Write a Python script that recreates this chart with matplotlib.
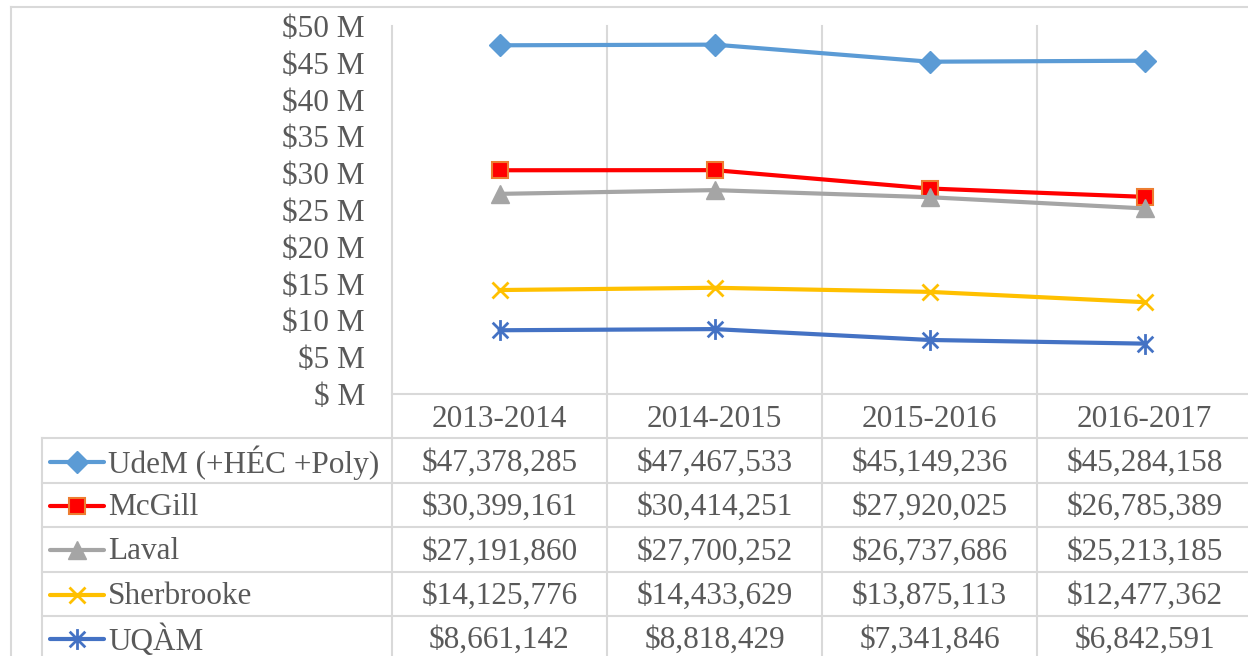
import matplotlib
matplotlib.use("Agg")
import matplotlib.pyplot as plt
from matplotlib.lines import Line2D
from matplotlib.path import Path
from matplotlib.ticker import FixedLocator, FuncFormatter

# ---- data ----
years = ["2013-2014", "2014-2015", "2015-2016", "2016-2017"]
series_names = ["UdeM (+HÉC +Poly)", "McGill", "Laval", "Sherbrooke", "UQÀM"]
udem = [47378285, 47467533, 45149236, 45284158]
mcgill = [30399161, 30414251, 27920025, 26785389]
laval = [27191860, 27700252, 26737686, 25213185]
sherbrooke = [14125776, 14433629, 13875113, 12477362]
uqam = [8661142, 8818429, 7341846, 6842591]
y_ticks = [0, 5, 10, 15, 20, 25, 30, 35, 40, 45, 50]

series_values = [udem, mcgill, laval, sherbrooke, uqam]

star_path = Path(
    [(0, -1), (0, 1), (-0.75, -0.75), (0.75, 0.75), (-0.75, 0.75), (0.75, -0.75)],
    [Path.MOVETO, Path.LINETO, Path.MOVETO, Path.LINETO, Path.MOVETO, Path.LINETO],
)

styles = [
    dict(color="#5B9BD5", marker="D", ms=11, mfc="#5B9BD5", mec="#5B9BD5"),
    dict(color="#FF0000", marker="s", ms=11.5, mfc="#FF0000", mec="#ED7D31", mew=1.5),
    dict(color="#A5A5A5", marker="^", ms=13, mfc="#A5A5A5", mec="#A5A5A5"),
    dict(color="#FFC000", marker="x", ms=12, mec="#FFC000", mew=2),
    dict(color="#4472C4", marker=star_path, ms=15, mec="#4472C4", mew=2),
]

W, H = 1248, 656
DPI = 100
plt.rcParams["font.family"] = ["Liberation Serif", "DejaVu Serif"]
TXT = "#595959"
GRID = "#D9D9D9"
FS = 22.5

fig = plt.figure(figsize=(W / DPI, H / DPI), dpi=DPI)


def fx(x):
    return x / W


def fy(y):
    return 1 - y / H


# plot area geometry (pixels)
left_px, right_px, top_px, bot_px = 392, 1252, 26, 394
ax = fig.add_axes([fx(left_px), fy(bot_px), fx(right_px - left_px), (bot_px - top_px) / H])
ax.patch.set_alpha(0)
ax.set_xlim(-0.5, len(years) - 0.5)
ax.set_ylim(0, 50)
for s in ax.spines.values():
    s.set_visible(False)
ax.set_xticks([])
ax.yaxis.set_major_locator(FixedLocator(y_ticks))
ax.yaxis.set_major_formatter(FuncFormatter(lambda v, p: f"${int(v)} M" if v else "$ M"))
ax.tick_params(axis="y", length=0, pad=19.5, labelsize=FS, labelcolor=TXT)
for lab in ax.get_yticklabels():
    lab.set_verticalalignment("center_baseline")

x = list(range(len(years)))
for vals, st in zip(series_values, styles):
    ax.plot(x, [v / 1e6 for v in vals], lw=3, solid_capstyle="round", zorder=3, **st)

# ---- chart border ----
fig.add_artist(Line2D([fx(11), fx(W + 5)], [fy(7), fy(7)], transform=fig.transFigure, color=GRID, lw=1.5))
fig.add_artist(Line2D([fx(11), fx(11)], [fy(7), fy(H + 5)], transform=fig.transFigure, color=GRID, lw=1.5))

# ---- grid / table lines ----
col_w = (right_px - left_px) / len(years)
col_edges = [left_px + i * col_w for i in range(len(years) + 1)]
for i, cx in enumerate(col_edges):
    fig.add_artist(Line2D([fx(cx), fx(cx)], [fy(top_px), fy(H + 5)], transform=fig.transFigure,
                          color=GRID, lw=1.5, zorder=0))
header_top = bot_px
row_h = 44.4
header_bot = header_top + row_h
fig.add_artist(Line2D([fx(left_px), fx(W + 5)], [fy(header_top), fy(header_top)],
                      transform=fig.transFigure, color=GRID, lw=1.5))
table_left = 42
row_lines = [header_bot + i * row_h for i in range(len(series_names))]
for yl in row_lines:
    fig.add_artist(Line2D([fx(table_left), fx(W + 5)], [fy(yl), fy(yl)],
                          transform=fig.transFigure, color=GRID, lw=1.5))
fig.add_artist(Line2D([fx(table_left), fx(table_left)], [fy(header_bot), fy(H + 5)],
                      transform=fig.transFigure, color=GRID, lw=1.5))

# header text
for i, yr in enumerate(years):
    cx = left_px + (i + 0.5) * col_w
    fig.text(fx(cx), fy(header_top + row_h / 2), yr, ha="center", va="center_baseline",
             fontsize=FS, color=TXT)

# rows
for r, (name, vals, st) in enumerate(zip(series_names, series_values, styles)):
    cy = header_bot + (r + 0.5) * row_h
    lc = cy + 1
    fig.add_artist(Line2D([fx(50), fx(104)], [fy(lc), fy(lc)], transform=fig.transFigure,
                          color=st["color"], lw=3, solid_capstyle="round"))
    mk = {k: v for k, v in st.items() if k != "color"}
    fig.add_artist(Line2D([fx(77)], [fy(lc)], transform=fig.transFigure, linestyle="none",
                          color=st["color"], **mk))
    fig.text(fx(108), fy(cy - 1), name, ha="left", va="center_baseline", fontsize=FS, color=TXT)
    for i, v in enumerate(vals):
        cx = left_px + (i + 0.5) * col_w
        fig.text(fx(cx), fy(cy - 1), f"${v:,}", ha="center", va="center_baseline",
                 fontsize=FS, color=TXT)

fig.savefig("out.png", dpi=DPI)
